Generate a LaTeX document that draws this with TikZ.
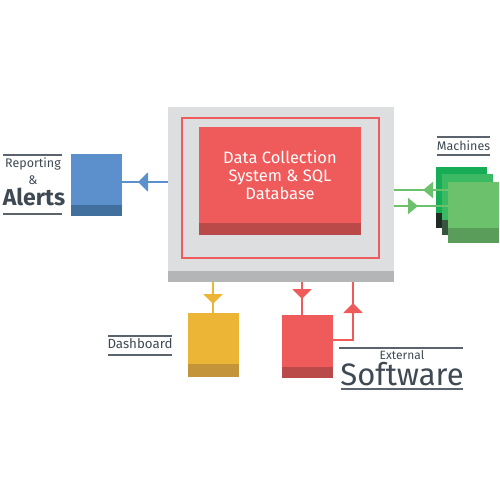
\documentclass[tikz,border=0pt]{standalone}
\usepackage{fontspec}
\setmainfont{Fira Sans}
\usetikzlibrary{arrows.meta,decorations.markings}
\definecolor{grayC}{HTML}{DDDEE0}
\definecolor{grayD}{HTML}{B4B5B6}
\definecolor{redC}{HTML}{EF5B5B}
\definecolor{redD}{HTML}{BA4A4A}
\definecolor{blueC}{HTML}{5B90CD}
\definecolor{blueD}{HTML}{41709F}
\definecolor{yelC}{HTML}{EDB535}
\definecolor{yelD}{HTML}{C4943A}
\definecolor{grnA}{HTML}{17AC56}
\definecolor{grnAD}{HTML}{1F2B23}
\definecolor{grnB}{HTML}{3BBA63}
\definecolor{grnBD}{HTML}{37543F}
\definecolor{grnC}{HTML}{6CC26C}
\definecolor{grnCD}{HTML}{5A9C59}
\definecolor{txt}{HTML}{3E4953}
\begin{document}
\begin{tikzpicture}[x=1pt,y=-1pt,
  box/.style={anchor=north west, inner sep=0pt, outer sep=0pt},
  bstrip/.style 2 args={path picture={\fill[#1] ([yshift=#2]path picture bounding box.south west) rectangle (path picture bounding box.south east);}},
  conn/.style={line width=2pt},
  midarrow/.style 2 args={postaction={decorate}, decoration={markings, mark=at position #1 with {\arrow{Triangle[width=#2,length=10pt]}}}},
  lbl/.style={text=txt, inner sep=0pt, anchor=base},
  rule/.style={draw=txt!85, line width=1.3pt}
]
\useasboundingbox (0,0) rectangle (500,500);

% central system
\node[box, fill=grayC, minimum width=226pt, minimum height=175pt, bstrip={grayD}{11pt}] (gray) at (168,107) {};
\node[box, draw=redC, line width=1.5pt, minimum width=197pt, minimum height=140pt] (frame) at (182,118) {};
\node[box, fill=redC, minimum width=162pt, minimum height=108pt, bstrip={redD}{12pt}] (db) at (199,127) {};
\node[lbl, text=white, font=\fontsize{16.5}{18}\selectfont] (dc1) at (280,163) {Data Collection};
\node[lbl, text=white, font=\fontsize{16.5}{18}\selectfont] (dc2) at (280,181) {System \& SQL};
\node[lbl, text=white, font=\fontsize{16.5}{18}\selectfont] (dc3) at (280,199) {Database};

% reporting & alerts
\node[box, fill=blueC, minimum width=51pt, minimum height=62pt, bstrip={blueD}{11pt}] (blue) at (71,154) {};
\coordinate (yb) at (0,182);
\draw[blueC, conn, midarrow={30pt}{19pt}] (gray.west |- yb) -- (blue.east |- yb);
\node[lbl, font=\fontsize{12.5}{14}\selectfont] (rep) at (33,167) {Reporting};
\node[lbl, font=\fontsize{12.5}{14}\selectfont] (amp) at (33,184) {\&};
\node[lbl, font=\fontsize{23}{26}\selectfont\bfseries] (alerts) at (34,205) {Alerts};
\draw[rule] (3,155) -- (62,155);
\draw[rule] (3,214) -- (62,214);

% machines
\node[box, fill=grnA, minimum width=51pt, minimum height=61pt, bstrip={grnAD}{15pt}] (m1) at (436,167) {};
\node[box, fill=grnB, minimum width=51pt, minimum height=61pt, bstrip={grnBD}{15pt}] (m2) at (442,174) {};
\coordinate (g1) at (0,190);
\coordinate (g2) at (0,206);
\coordinate (mx) at (448,0);
\draw[grnC, conn, midarrow={25pt}{16pt}] (mx |- g1) -- (gray.east |- g1);
\draw[grnC, conn, midarrow={24pt}{16pt}] (gray.east |- g2) -- (mx |- g2);
\node[box, fill=grnC, minimum width=51pt, minimum height=61pt, bstrip={grnCD}{15pt}] (m3) at (448,182) {};
\node[lbl, font=\fontsize{12.5}{14}\selectfont] (mach) at (463.5,150) {Machines};
\draw[rule] (437,137) -- (490,137);
\draw[rule] (437,155) -- (490,155);

% dashboard
\node[box, fill=yelC, minimum width=51pt, minimum height=64pt, bstrip={yelD}{13pt}] (yel) at (188,313) {};
\coordinate (yx) at (213,0);
\draw[yelC, conn, midarrow={22pt}{19pt}] (gray.south -| yx) -- (yel.north -| yx);
\node[lbl, font=\fontsize{13.3}{14}\selectfont] (dash) at (140,348) {Dashboard};
\draw[rule] (108,336) -- (172,336);
\draw[rule] (108,355) -- (172,355);

% external software
\node[box, fill=redC, minimum width=51pt, minimum height=63pt, bstrip={redD}{11pt}] (ext) at (282,315) {};
\coordinate (rx) at (302,0);
\coordinate (ux) at (353,0);
\coordinate (ey) at (0,340);
\draw[redC, conn, midarrow={17pt}{19pt}] (gray.south -| rx) -- (ext.north -| rx);
\draw[redC, conn, midarrow={57pt}{19pt}] (ext.east |- ey) -| (gray.south -| ux);
\node[lbl, font=\fontsize{12}{14}\selectfont] (extl) at (402,359) {External};
\node[lbl, font=\fontsize{31}{33}\selectfont] (soft) at (402,385.5) {Software};
\draw[rule] (339,348) -- (463,348);
\draw[rule] (341,389) -- (463,389);
\end{tikzpicture}
\end{document}
